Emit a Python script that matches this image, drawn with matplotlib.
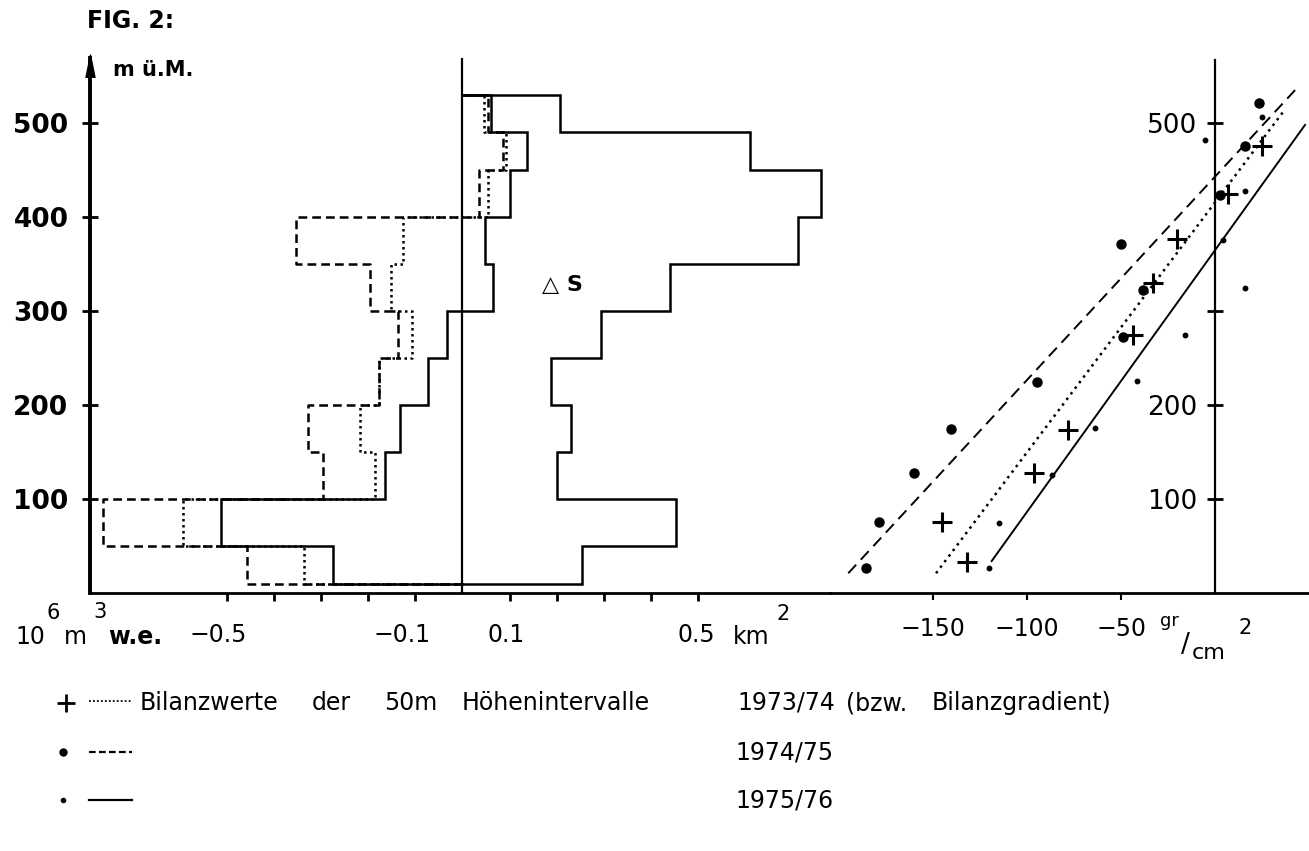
"""
Fig. 2 - Bilanzwerte der 50m Hoehenintervalle 1973/74 - 1975/76.
"""
import matplotlib
matplotlib.use('Agg')
import matplotlib.pyplot as plt

plt.rcParams['font.family'] = ['DejaVu Sans']

# ── Daten links: Höhenstufen (m ü.M.) ──
ELEV_EDGES = [10, 50, 100, 150, 200, 250, 300, 350, 400, 450, 490, 530]
AREA_KM2 = [0.253, 0.454, 0.201, 0.231, 0.187, 0.295, 0.440, 0.712, 0.762, 0.610, 0.206]
VOL_7374 = [-0.337, -0.594, -0.186, -0.218, -0.177, -0.108, -0.152, -0.126, 0.055, 0.092, 0.046]
VOL_7475 = [-0.457, -0.764, -0.297, -0.327, -0.177, -0.136, -0.196, -0.354, 0.036, 0.086, 0.054]
VOL_7576 = [-0.276, -0.513, -0.165, -0.133, -0.073, -0.032, 0.064, 0.048, 0.101, 0.138, 0.061]

# ── Daten rechts: spez. Bilanz (gr/cm2) je Höhe ──
PTS_7374_X = [-131.8, -145.4, -96.3, -78.0, -43.5, -32.8, -20.4, 7.1, 25.2]
PTS_7374_Y = [33, 76, 128, 173, 274, 330, 377, 424, 476]
PTS_7475_X = [-185.6, -178.6, -160.1, -140.6, -94.5, -48.8, -38.5, -50.0, 2.7, 16.0, 23.6]
PTS_7475_Y = [27, 76, 128, 175, 224, 272, 322, 371, 423, 475, 521]
PTS_7576_X = [-120.0, -114.9, -86.9, -63.8, -41.3, -16.0, 16.0, 4.1, 16.0, -5.3, 24.8]
PTS_7576_Y = [27, 75, 126, 176, 226, 274, 324, 375, 428, 482, 506]

# Bilanzgradienten (Endpunkte)
GRAD_7374_X, GRAD_7374_Y = [-148.4, 36.3], [21, 512]
GRAD_7475_X, GRAD_7475_Y = [-195.1, 42.6], [21, 535]
GRAD_7576_X, GRAD_7576_Y = [-118.8, 47.9], [34, 498]

W, H = 1309, 851
BASE = 593          # Pixelzeile der gemeinsamen Grundlinie
DOTTED = (0, (1.0, 1.4))
DASHED = (0, (3.5, 2.0))


def step_outline(values):
    """Treppenkurve: von der Nulllinie um die Höhenstufen herum zurück."""
    xs, ys = [0], [ELEV_EDGES[0]]
    for i, v in enumerate(values):
        xs += [v, v]
        ys += [ELEV_EDGES[i], ELEV_EDGES[i + 1]]
    xs.append(0)
    ys.append(ELEV_EDGES[-1])
    return xs, ys


fig = plt.figure(figsize=(W / 100, H / 100), dpi=100)

# ── Linke Grafik ──
ax = fig.add_axes([90 / W, (H - BASE) / H, (830 - 90) / W, (BASE - 58) / H])
ax.set_xlim(-(462.5 - 90) / 471, (830 - 462.5) / 471)
ax.set_ylim(0, (BASE - 58) / 0.94)

ax.plot(*step_outline(AREA_KM2), color='k', lw=1.8, solid_joinstyle='miter')
ax.plot(*step_outline(VOL_7374), color='k', lw=1.8, ls=DOTTED)
ax.plot(*step_outline(VOL_7475), color='k', lw=1.8, ls=DASHED)
ax.plot(*step_outline(VOL_7576), color='k', lw=1.8, solid_joinstyle='miter')
ax.axvline(0, color='k', lw=1.6)

for side in ('top', 'right'):
    ax.spines[side].set_visible(False)
ax.spines['left'].set_linewidth(2.8)
ax.spines['bottom'].set_linewidth(2.0)
ax.set_yticks([100, 200, 300, 400, 500])
ax.tick_params(axis='y', direction='inout', length=11, width=2, pad=10, labelsize=19)
for lab in ax.get_yticklabels():
    lab.set_fontweight('bold')
ax.set_xticks([-0.5, -0.4, -0.3, -0.2, -0.1, 0.1, 0.2, 0.3, 0.4, 0.5])
ax.set_xticklabels([])
ax.tick_params(axis='x', direction='out', length=6, width=2)
ax.plot([ax.get_xlim()[0]], [ax.get_ylim()[1] - 8.5], marker=[(-0.4, -1), (0, 1), (0.4, -1)],
        ms=16.5, color='k', clip_on=False)

# ── Rechte Grafik ──
ax2 = fig.add_axes([830 / W, (H - BASE) / H, (W - 830) / W, (BASE - 60) / H])
ax2.set_xlim(-204.8, 50.0)
ax2.set_ylim(0, (BASE - 60) / 0.94)
ax2.patch.set_visible(False)

ax2.plot(GRAD_7475_X, GRAD_7475_Y, color='k', lw=1.4, ls=(0, (6, 3.5)))
ax2.plot(GRAD_7374_X, GRAD_7374_Y, color='k', lw=1.8, ls=(0, (1, 1.8)))
ax2.plot(GRAD_7576_X, GRAD_7576_Y, color='k', lw=1.4)
ax2.plot(PTS_7475_X, PTS_7475_Y, 'o', color='k', ms=6.5, ls='none')
ax2.plot(PTS_7576_X, PTS_7576_Y, 'o', color='k', ms=3.2, ls='none')
ax2.plot(PTS_7374_X, PTS_7374_Y, '+', color='k', ms=15, mew=2.2, ls='none')

for side in ('top', 'right'):
    ax2.spines[side].set_visible(False)
ax2.spines['left'].set_position(('data', 0))
ax2.spines['left'].set_linewidth(1.6)
ax2.spines['bottom'].set_linewidth(2.0)
ax2.set_yticks([100, 200, 300, 500], ['100', '200', '', '500'])
ax2.tick_params(axis='y', direction='inout', length=11, width=2, pad=7.5, labelsize=19)
ax2.set_xticks([-150, -100, -50], ['\u2212150', '\u2212100', '\u221250'])
ax2.tick_params(axis='x', direction='out', length=5, width=1.5, pad=12, labelsize=17)

# ── Beschriftungen (Pixelkoordinaten) ──
ov = fig.add_axes([0, 0, 1, 1])
ov.set_xlim(0, W)
ov.set_ylim(H, 0)
ov.axis('off')

ov.text(87, 21, 'FIG. 2:', fontsize=17, fontweight='bold', va='center')
ov.text(113, 70, 'm ü.M.', fontsize=15, fontweight='bold', va='center')
ov.text(542, 285, '\u25b3 S', fontsize=16, fontweight='bold', va='center')

# Achsenbeschriftung links
ov.text(15, 637, '10', fontsize=17, va='center')
ov.text(47, 613, '6', fontsize=15, va='center')
ov.text(64, 637, 'm', fontsize=17, va='center')
ov.text(93, 612, '3', fontsize=15, va='center')
ov.text(108, 637, 'w.e.', fontsize=17, fontweight='bold', va='center')
for xp, s in [(218, '\u22120.5'), (402, '\u22120.1'), (506, '0.1'), (696, '0.5')]:
    ov.text(xp, 635, s, fontsize=17, ha='center', va='center')
ov.text(733, 637, 'km', fontsize=17, va='center')
ov.text(776, 614, '2', fontsize=15, va='center')

# Einheit rechts
ov.text(1179, 621, 'gr', fontsize=13, ha='right', va='center')
ov.text(1185, 645, '/', fontsize=19, ha='center', va='center')
ov.text(1192, 653, 'cm', fontsize=16, ha='left', va='center')
ov.text(1245, 628, '2', fontsize=15, ha='center', va='center')

# Legende
ov.plot([66], [703], '+', color='k', ms=13, mew=2)
ov.plot([89, 132], [701, 701], color='k', lw=1.3, ls=(0, (1, 1.2)))
ov.plot([63], [752], 'o', color='k', ms=5)
ov.plot([89, 132], [752, 752], color='k', lw=1.6, ls=(0, (3, 1.5)))
ov.plot([63], [800], 'o', color='k', ms=3)
ov.plot([89, 132], [800, 800], color='k', lw=1.6)
for xp, s in [(140, 'Bilanzwerte'), (312, 'der'), (384, '50m'), (462, 'Höhenintervalle'),
              (737, '1973/74'), (846, '(bzw.'), (932, 'Bilanzgradient)')]:
    ov.text(xp, 703, s, fontsize=17, va='center')
ov.text(735, 752, '1974/75', fontsize=17, va='center')
ov.text(735, 800, '1975/76', fontsize=17, va='center')

fig.savefig('out.png', dpi=100)
